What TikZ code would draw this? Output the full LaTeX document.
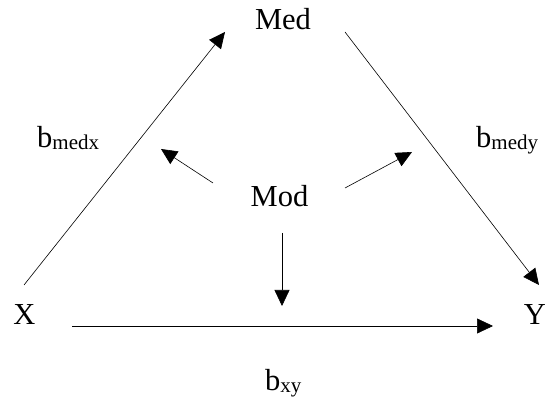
\documentclass[tikz,border=0pt]{standalone}
\usepackage{fontspec}
\setmainfont{Liberation Serif}
\usetikzlibrary{arrows.meta}
\tikzset{
  lbl/.style={inner sep=0pt, anchor=base, font=\fontsize{30.5}{36}\selectfont},
  lblw/.style={inner sep=0pt, anchor=base west, font=\fontsize{30.5}{36}\selectfont},
  conn/.style={line width=0.6pt, -{Triangle[length=16pt,width=15pt]}}
}
\newcommand{\sbs}[1]{{\fontsize{21}{22}\selectfont\raisebox{-2pt}{#1}}}
\begin{document}
\begin{tikzpicture}[x=1pt,y=1pt]
\useasboundingbox (0,0) rectangle (547,401);
\node[lbl] (med) at (283,371) {Med};
\node[lbl] (mod) at (279.5,194) {Mod};
\node[lbl] (x) at (24.5,76) {X};
\node[lbl] (y) at (535,76) {Y};
\node[lblw] (bmedx) at (37,253) {b\sbs{medx}};
\node[lblw] (bmedy) at (476,253) {b\sbs{medy}};
\node[lblw] (bxy) at (265,10) {b\sbs{xy}};
% connector ends
\coordinate (xs) at (24,116);
\coordinate (mt) at (225,369);
\coordinate (ms) at (345,369);
\coordinate (yt) at (539,116);
\coordinate (xr) at (72,75);
\coordinate (yl) at (493,75);
\coordinate (modl) at (213,218);
\coordinate (tl) at (161,252);
\coordinate (modr) at (345,213);
\coordinate (tr) at (412,249);
\coordinate (modd) at (282,168);
\coordinate (td) at (282,95);
\draw[conn] (xs) -- (mt);
\draw[conn] (ms) -- (yt);
\draw[conn] (xr) -- (yl);
\draw[conn] (modl) -- (tl);
\draw[conn] (modr) -- (tr);
\draw[conn] (modd) -- (td);
\end{tikzpicture}
\end{document}
